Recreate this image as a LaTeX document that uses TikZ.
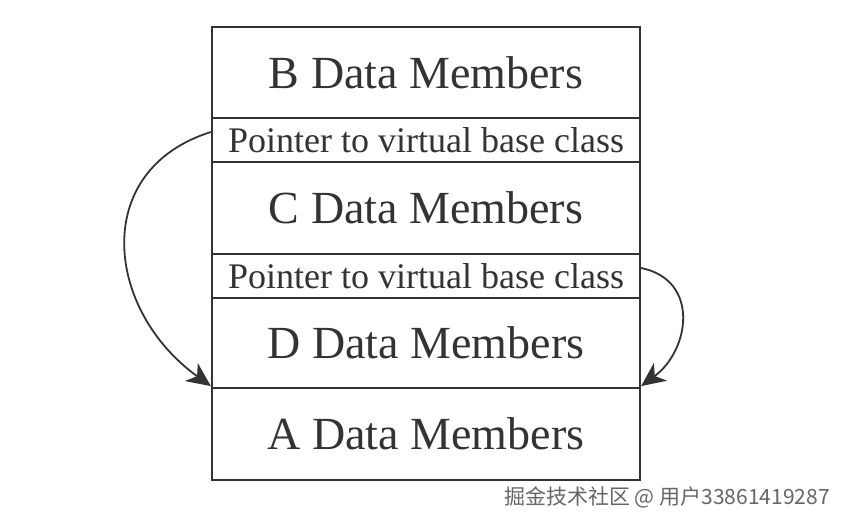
\documentclass[tikz,border=0pt]{standalone}
\usepackage{fontspec}
\setmainfont{Liberation Serif}
\newfontfamily\cjk{Noto Sans CJK SC}
\usetikzlibrary{arrows.meta}
\definecolor{ink}{HTML}{333333}
\begin{document}
\begin{tikzpicture}[x=1pt,y=-1pt,
  row/.style={draw=ink,line width=2.2pt,minimum width=428pt,inner sep=0pt,text=ink},
  big/.style={row,font=\fontsize{46}{50}\selectfont},
  small/.style={row,font=\fontsize{36}{38}\selectfont},
  link/.style={draw=ink,line width=1.8pt,-{Stealth[length=24pt,width=22pt,inset=7pt]}}]
\fill[white] (0,0) rectangle (848,528);
\useasboundingbox (0,0) rectangle (848,528);
\node[big,minimum height=91pt] (b) at (426,72.5) {B Data Members};
\node[small,minimum height=44pt] (p1) at (426,140) {Pointer to virtual base class};
\node[big,minimum height=92pt] (c) at (426,208) {C Data Members};
\node[small,minimum height=44pt] (p2) at (426,276) {Pointer to virtual base class};
\node[big,minimum height=90pt] (d) at (426,343) {D Data Members};
\node[big,minimum height=92pt] (a) at (426,434) {A Data Members};
\draw[link] ([yshift=8pt]p1.west) .. controls (90,170) and (105,310) .. ([yshift=3pt]d.south west);
\draw[link] ([yshift=8pt]p2.east) .. controls (700,280) and (690,350) .. ([yshift=3pt]d.south east);
\node[text=gray!80!black,font=\cjk\fontsize{21}{24}\selectfont] (wm) at (667,497) {掘金技术社区 @ 用户33861419287};
\end{tikzpicture}
\end{document}
